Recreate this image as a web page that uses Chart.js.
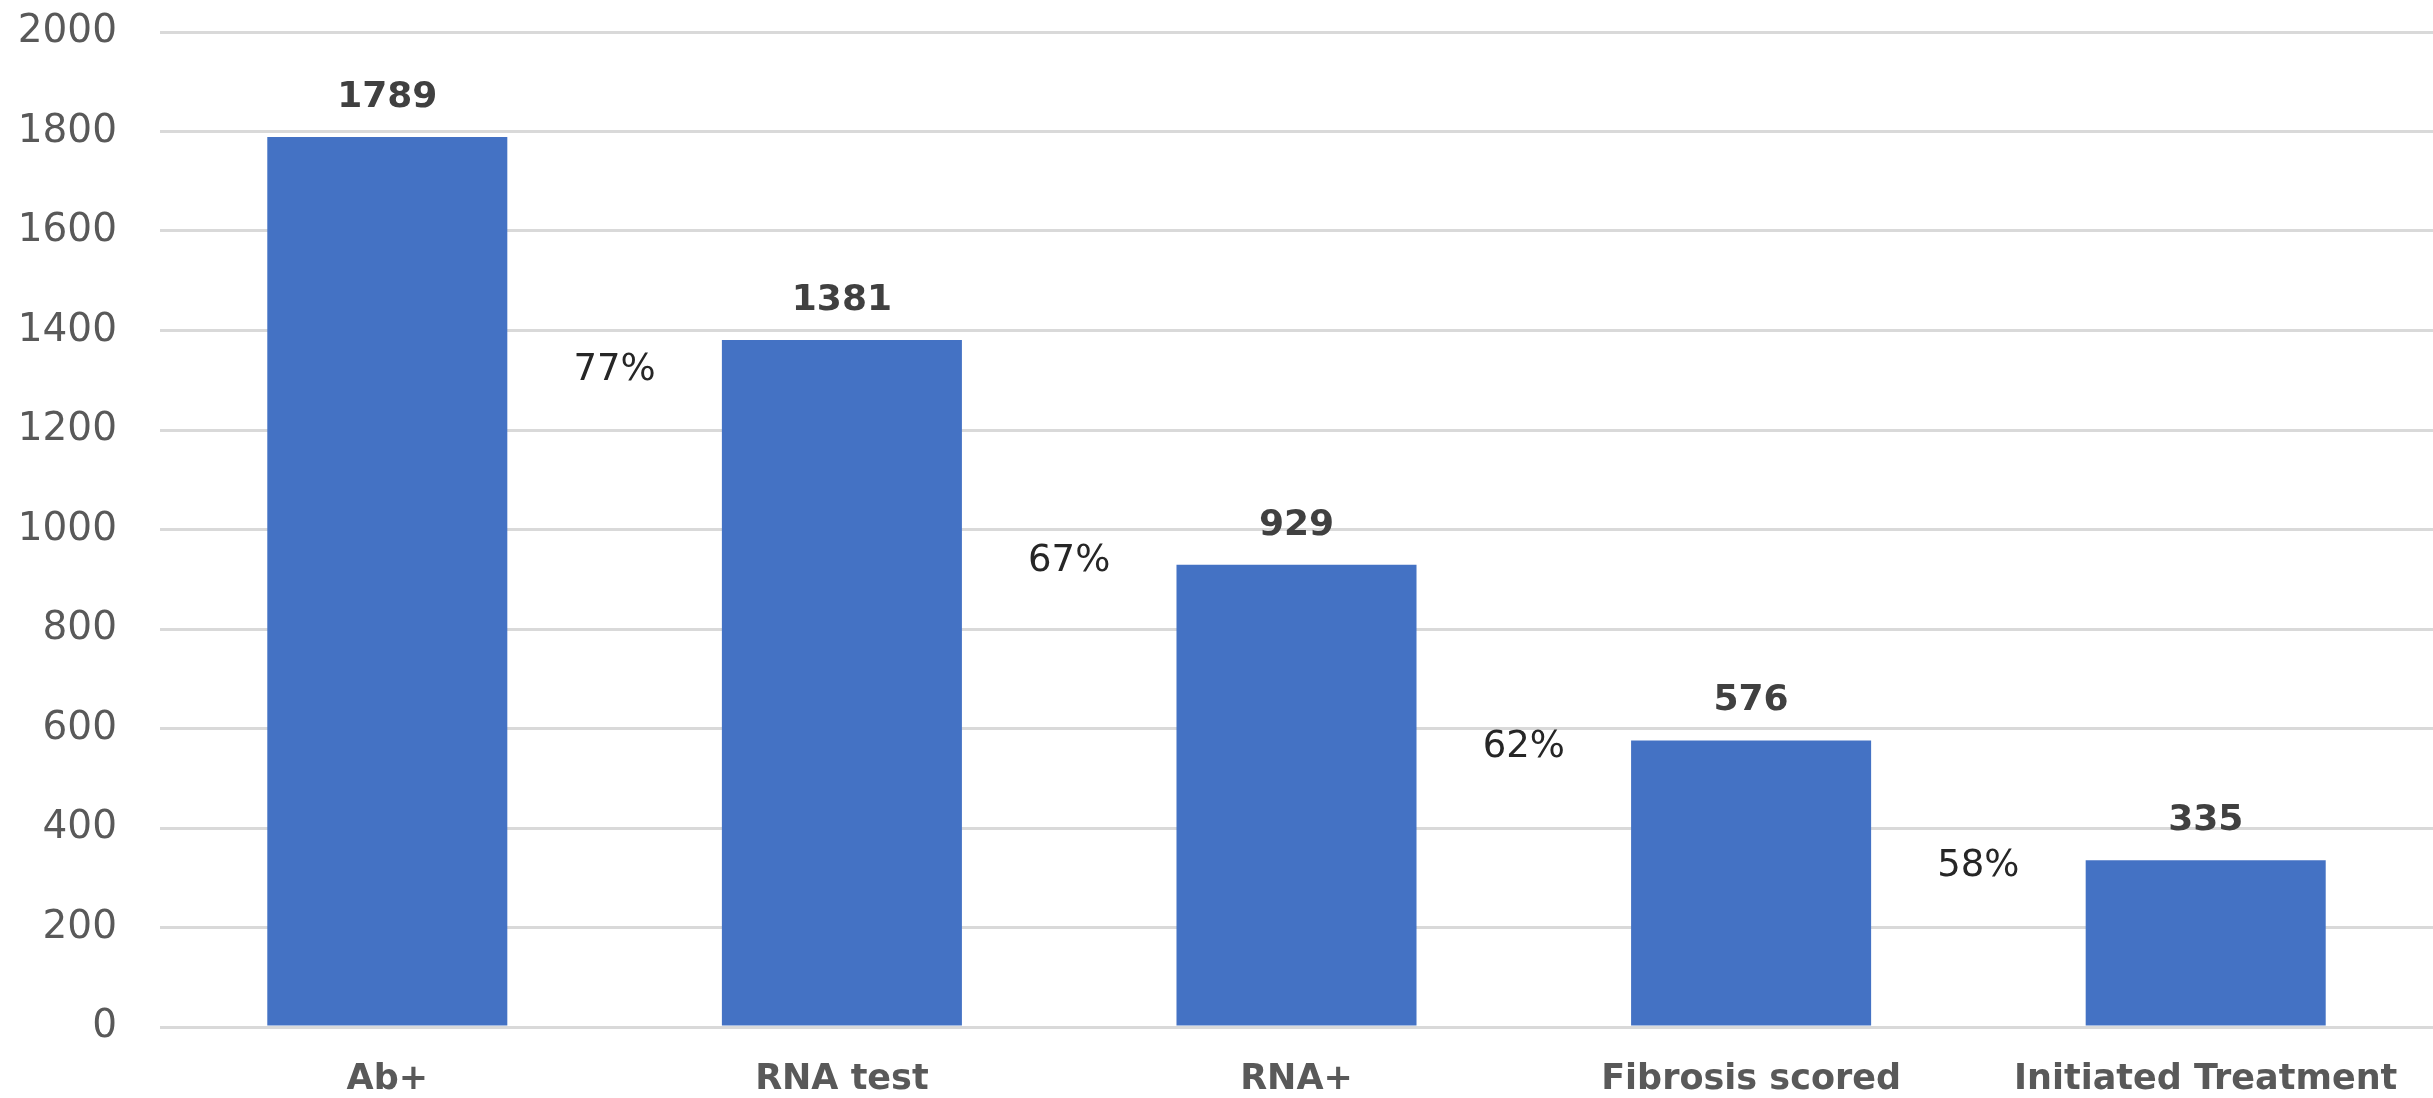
<!DOCTYPE html>
<html>
<head>
<meta charset="utf-8">
<script src="https://cdn.jsdelivr.net/npm/chart.js@4/dist/chart.umd.min.js"></script>
<style>
  html, body { margin: 0; padding: 0; background: #ffffff; }
  #wrap { width: 2433px; height: 1098px; }
</style>
</head>
<body>
<div id="wrap"><canvas id="c" width="2433" height="1098"></canvas></div>
<script>
// Care cascade: patients remaining at each step
const categories = ['Ab+', 'RNA test', 'RNA+', 'Fibrosis scored', 'Initiated Treatment'];
const patients = [1789, 1381, 929, 576, 335];
const yTicks = [0, 200, 400, 600, 800, 1000, 1200, 1400, 1600, 1800, 2000];

// Step-to-step retention, shown between neighbouring bars
const retention = patients.slice(1).map((v, i) => Math.round(v / patients[i] * 100) + '%');

const labelPlugin = {
  id: 'cascadeLabels',
  afterDatasetsDraw(chart) {
    const ctx = chart.ctx;
    const x = chart.scales.x;
    const y = chart.scales.y;
    ctx.save();
    // value labels above each bar
    ctx.font = 'bold 36px "DejaVu Sans"';
    ctx.fillStyle = '#404040';
    ctx.textAlign = 'center';
    ctx.textBaseline = 'alphabetic';
    patients.forEach((v, i) => {
      ctx.fillText(String(v), x.getPixelForValue(i), y.getPixelForValue(v) - 30);
    });
    // retention percentages between bars
    const nudge = [30, -3, 7, 6];
    ctx.font = '37px "DejaVu Sans"';
    ctx.fillStyle = '#262626';
    ctx.textBaseline = 'middle';
    retention.forEach((t, i) => {
      const px = (x.getPixelForValue(i) + x.getPixelForValue(i + 1)) / 2;
      const py = y.getPixelForValue(patients[i + 1]) + nudge[i];
      ctx.fillText(t, px, py);
    });
    ctx.restore();
  }
};

new Chart(document.getElementById('c'), {
  type: 'bar',
  data: {
    labels: categories,
    datasets: [{
      data: patients,
      backgroundColor: '#4472C4',
      borderWidth: 0,
      barPercentage: 0.528,
      categoryPercentage: 1.0
    }]
  },
  options: {
    responsive: false,
    animation: false,
    layout: { padding: { top: 32, right: 0, left: 0, bottom: 0 } },
    plugins: {
      legend: { display: false },
      tooltip: { enabled: false }
    },
    scales: {
      x: {
        grid: { display: false, drawTicks: false },
        border: { display: false },
        ticks: {
          padding: 32,
          maxRotation: 0,
          autoSkip: false,
          color: '#595959',
          font: { family: '"DejaVu Sans"', size: 35, weight: 'bold' }
        },
        afterFit(scale) { scale.height = 71; }
      },
      y: {
        min: 0,
        max: 2000,
        afterBuildTicks(scale) { scale.ticks = yTicks.map(v => ({ value: v })); },
        grid: { color: '#d9d9d9', lineWidth: 3, drawTicks: true, tickLength: 43, tickColor: 'rgba(0,0,0,0)' },
        border: { display: false },
        ticks: {
          padding: 0,
          color: '#595959',
          font: { family: '"DejaVu Sans"', size: 39 },
          callback: (v) => String(v)
        },
        afterFit(scale) { scale.width = 160; }
      }
    }
  },
  plugins: [labelPlugin]
});
</script>
</body>
</html>
